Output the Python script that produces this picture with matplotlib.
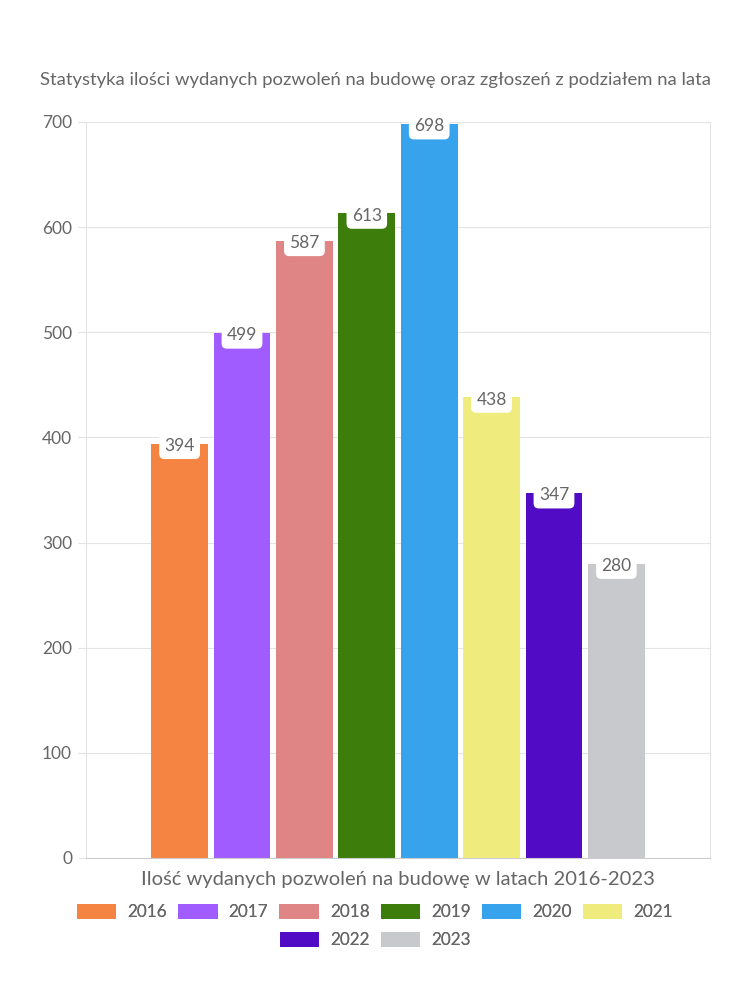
"""Bar chart of building permits issued per year, 2016-2023."""

import matplotlib.pyplot as plt
from matplotlib.patches import Patch

YEARS = ["2016", "2017", "2018", "2019", "2020", "2021", "2022", "2023"]
PERMITS = [394, 499, 587, 613, 698, 438, 347, 280]
COLORS = [
    "#f58442", "#a05cff", "#e08585", "#3d7d0c",
    "#36a3ec", "#f0eb7d", "#520bc4", "#c8c9cd",
]

TITLE = "Statystyka ilości wydanych pozwoleń na budowę oraz zgłoszeń z podziałem na lata"
XLABEL = "Ilość wydanych pozwoleń na budowę w latach 2016-2023"
Y_TICKS = [0, 100, 200, 300, 400, 500, 600, 700]

TEXT_COLOR = "#666666"
GRID_COLOR = "#e4e4e4"

plt.rcParams["font.family"] = ["Lato", "DejaVu Sans"]


def add_legend_row(fig, names, colors, y_px):
    handles = [Patch(facecolor=c, edgecolor="none") for c in colors]
    leg = fig.legend(
        handles, names, loc="center", ncol=len(names),
        bbox_to_anchor=(0.5, 1 - y_px / 1000),
        frameon=False, fontsize=12.3, labelcolor=TEXT_COLOR,
        handlelength=2.3, handleheight=1.0, columnspacing=0.65,
        handletextpad=0.65, borderpad=0.0,
    )
    fig.add_artist(leg)


def main() -> None:
    fig = plt.figure(figsize=(7.5, 10), dpi=100)
    ax = fig.add_axes([86 / 750, 1 - 858 / 1000, 624 / 750, 736 / 1000])

    positions = list(range(len(YEARS)))
    ax.bar(positions, PERMITS, width=0.91, color=COLORS, zorder=2)
    for x, value in zip(positions, PERMITS):
        ax.text(
            x, value - 2, str(value),
            ha="center", va="center", fontsize=12.5, color=TEXT_COLOR, zorder=3,
            bbox=dict(boxstyle="round,pad=0.3,rounding_size=0.3",
                      fc="white", ec="none"),
        )

    ax.set_xlim(-1.5, 8.5)
    ax.set_ylim(0, 700)
    ax.set_yticks(Y_TICKS)
    ax.set_xticks([])
    ax.tick_params(axis="y", length=6, color=GRID_COLOR, labelsize=12.5,
                   labelcolor=TEXT_COLOR, pad=4)
    ax.grid(True, axis="y", color=GRID_COLOR, linewidth=0.8, zorder=0)
    for side in ["left", "right", "top"]:
        ax.spines[side].set_color(GRID_COLOR)
    ax.spines["top"].set_visible(False)
    ax.spines["bottom"].set_color("#cccccc")

    fig.text(0.5, 1 - 80 / 1000, TITLE, ha="center", va="center",
             fontsize=13.3, color=TEXT_COLOR)
    fig.text(0.5 * (86 + 710) / 750, 1 - 880 / 1000, XLABEL, ha="center",
             va="center", fontsize=14.5, color=TEXT_COLOR)

    add_legend_row(fig, YEARS[:6], COLORS[:6], 912)
    add_legend_row(fig, YEARS[6:], COLORS[6:], 940)

    fig.savefig("out.png", dpi=100)
    plt.close(fig)


if __name__ == "__main__":
    main()
